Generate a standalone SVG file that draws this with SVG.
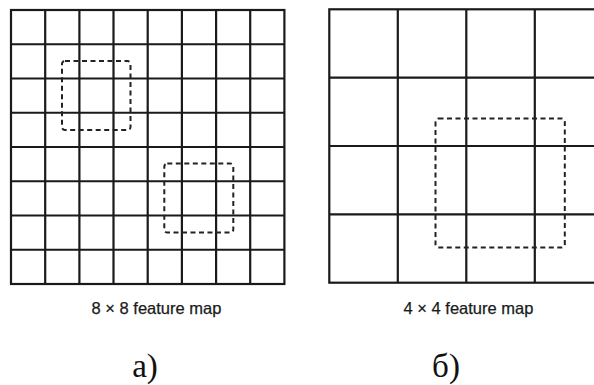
<svg xmlns="http://www.w3.org/2000/svg" width="594" height="385" viewBox="0 0 594 385">
  <style>
    .grid { stroke: #1a1a1a; stroke-width: 2.2; fill: none; }
    .window { stroke: #222; stroke-width: 2; fill: none; stroke-dasharray: 5 3.5; }
    .caption { font-family: "Liberation Sans", Arial, sans-serif; font-size: 16.5px; fill: #1a1a1a; stroke: #1a1a1a; stroke-width: 0.25; text-anchor: middle; }
    .label { font-family: "Liberation Serif", "Times New Roman", serif; font-size: 33px; fill: #111; text-anchor: middle; }
  </style>
  <rect width="594" height="385" fill="#fff"/>

  <!-- 8 x 8 feature map -->
  <g id="map8">
    <rect class="grid" x="11" y="10" width="273.4" height="274"/>
    <path class="grid" d="M45.2 10V284M79.4 10V284M113.5 10V284M147.7 10V284M181.9 10V284M216.1 10V284M250.2 10V284
                          M11 44.25H284.4M11 78.5H284.4M11 112.75H284.4M11 147H284.4M11 181.25H284.4M11 215.5H284.4M11 249.75H284.4"/>
    <rect class="window" x="62" y="61" width="68.5" height="69" rx="3"/>
    <rect class="window" x="164.3" y="163.5" width="69" height="69" rx="3"/>
    <text class="caption" x="156.5" y="313.5">8 × 8 feature map</text>
  </g>

  <!-- 4 x 4 feature map -->
  <g id="map4">
    <rect class="grid" x="329.3" y="9.3" width="274" height="273.4"/>
    <path class="grid" d="M397.8 9.3V282.7M466.3 9.3V282.7M534.8 9.3V282.7
                          M329.3 77.65H603M329.3 146H603M329.3 214.35H603"/>
    <rect class="window" x="435.5" y="118.5" width="129.3" height="129" rx="3"/>
    <text class="caption" x="468.5" y="313.5">4 × 4 feature map</text>
  </g>

  <g id="labels">
    <text class="label" x="145" y="377">а)</text>
    <text class="label" x="446" y="377">б)</text>
  </g>
</svg>
